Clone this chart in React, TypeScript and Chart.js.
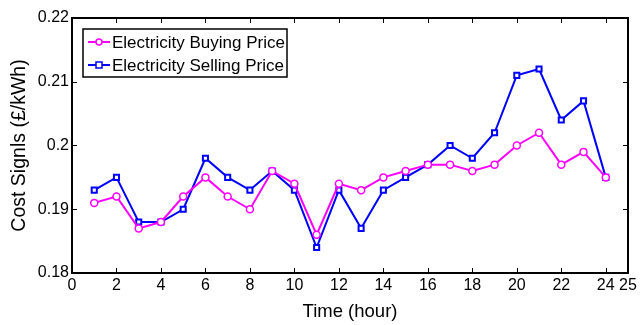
import { useEffect, useRef } from "react";
import { Chart, registerables } from "chart.js";

Chart.register(...registerables);

// Hourly electricity prices (£/kWh)
const hours = [1, 2, 3, 4, 5, 6, 7, 8, 9, 10, 11, 12, 13, 14, 15, 16, 17, 18, 19, 20, 21, 22, 23, 24];
const buyingPrice = [
  0.191, 0.192, 0.187, 0.188, 0.192, 0.195, 0.192, 0.19, 0.196, 0.194, 0.186, 0.194,
  0.193, 0.195, 0.196, 0.197, 0.197, 0.196, 0.197, 0.2, 0.202, 0.197, 0.199, 0.195,
];
const sellingPrice = [
  0.193, 0.195, 0.188, 0.188, 0.19, 0.198, 0.195, 0.193, 0.196, 0.193, 0.184, 0.193,
  0.187, 0.193, 0.195, 0.197, 0.2, 0.198, 0.202, 0.211, 0.212, 0.204, 0.207, 0.195,
];
const xTickValues = [0, 2, 4, 6, 8, 10, 12, 14, 16, 18, 20, 22, 24, 25];
const yTickValues = [0.18, 0.19, 0.2, 0.21, 0.22];

const seriesNames = ["Electricity Buying Price", "Electricity Selling Price"];
const MAGENTA = "#ff00ff";
const BLUE = "#0000ff";
const FONT = "'Liberation Sans', Arial, sans-serif";

// Draws the MATLAB-style box with inward ticks on all four sides
const framePlugin = {
  id: "frame",
  beforeDatasetsDraw(chart: any) {
    const { ctx, chartArea: a, scales } = chart;
    const len = 5;
    ctx.save();
    ctx.strokeStyle = "#000";
    ctx.lineWidth = 1;
    ctx.beginPath();
    for (const v of xTickValues) {
      const px = Math.round(scales.x.getPixelForValue(v)) + 0.5;
      ctx.moveTo(px, a.bottom);
      ctx.lineTo(px, a.bottom - len);
      ctx.moveTo(px, a.top);
      ctx.lineTo(px, a.top + len);
    }
    for (const v of yTickValues) {
      const py = Math.round(scales.y.getPixelForValue(v)) + 0.5;
      ctx.moveTo(a.left, py);
      ctx.lineTo(a.left + len, py);
      ctx.moveTo(a.right, py);
      ctx.lineTo(a.right - len, py);
    }
    ctx.stroke();
    ctx.lineWidth = 2;
    ctx.strokeRect(a.left, a.top, a.right - a.left, a.bottom - a.top);
    ctx.restore();
  },
};

// Boxed legend in the upper-left corner of the plot area
const legendPlugin = {
  id: "boxLegend",
  afterDatasetsDraw(chart: any) {
    const { ctx, chartArea: a } = chart;
    const x0 = a.left + 11;
    const y0 = a.top + 11;
    const w = 204;
    const h = 48;
    ctx.save();
    ctx.fillStyle = "#fff";
    ctx.fillRect(x0, y0, w, h);
    ctx.strokeStyle = "#000";
    ctx.lineWidth = 1.5;
    ctx.strokeRect(x0, y0, w, h);
    ctx.font = `17px ${FONT}`;
    ctx.textBaseline = "middle";
    chart.data.datasets.forEach((ds: any, i: number) => {
      const cy = y0 + 13 + i * 23;
      ctx.strokeStyle = ds.borderColor;
      ctx.lineWidth = 2;
      ctx.beginPath();
      ctx.moveTo(x0 + 5, cy);
      ctx.lineTo(x0 + 27, cy);
      ctx.stroke();
      ctx.fillStyle = "#fff";
      ctx.lineWidth = 1.5;
      ctx.beginPath();
      if (ds.pointStyle === "rect") {
        ctx.rect(x0 + 13, cy - 3, 6, 6);
      } else {
        ctx.arc(x0 + 16, cy, 3, 0, Math.PI * 2);
      }
      ctx.fill();
      ctx.stroke();
      ctx.fillStyle = "#000";
      ctx.fillText(seriesNames[i], x0 + 29, cy + 1);
    });
    ctx.restore();
  },
};

export default function App() {
  const canvasRef = useRef<HTMLCanvasElement | null>(null);

  useEffect(() => {
    document.body.style.margin = "0";
    const canvas = canvasRef.current;
    if (!canvas) return;
    const chart = new Chart(canvas, {
      type: "line",
      data: {
        datasets: [
          {
            label: seriesNames[0],
            data: hours.map((h, i) => ({ x: h, y: buyingPrice[i] })),
            borderColor: MAGENTA,
            backgroundColor: "#fff",
            borderWidth: 2,
            pointStyle: "circle",
            pointRadius: 3.5,
            pointBorderWidth: 1.5,
            pointBackgroundColor: "#fff",
            tension: 0,
          },
          {
            label: seriesNames[1],
            data: hours.map((h, i) => ({ x: h, y: sellingPrice[i] })),
            borderColor: BLUE,
            backgroundColor: "#fff",
            borderWidth: 2,
            pointStyle: "rect",
            pointRadius: 3.6,
            pointBorderWidth: 2,
            pointBackgroundColor: "#fff",
            tension: 0,
          },
        ],
      },
      options: {
        animation: false,
        responsive: false,
        maintainAspectRatio: false,
        layout: { padding: { top: 18, right: 12, left: 0, bottom: 0 } },
        plugins: {
          legend: { display: false },
          tooltip: { enabled: false },
        },
        scales: {
          x: {
            type: "linear",
            min: 0,
            max: 25,
            afterBuildTicks: (scale: any) => {
              scale.ticks = xTickValues.map((v) => ({ value: v }));
            },
            afterFit: (scale: any) => {
              scale.height = 52;
            },
            grid: { display: false, drawTicks: false },
            border: { display: false },
            ticks: {
              color: "#000",
              font: { family: FONT, size: 16 },
              padding: 3,
              maxRotation: 0,
              autoSkip: false,
              callback: (v: any) => String(v),
            },
            title: {
              display: true,
              text: "Time (hour)",
              color: "#000",
              font: { family: FONT, size: 18.5 },
              padding: { top: 0, bottom: 2 },
            },
          },
          y: {
            type: "linear",
            min: 0.18,
            max: 0.22,
            afterBuildTicks: (scale: any) => {
              scale.ticks = yTickValues.map((v) => ({ value: v }));
            },
            afterFit: (scale: any) => {
              scale.width = 72;
            },
            grid: { display: false, drawTicks: false },
            border: { display: false },
            ticks: {
              color: "#000",
              font: { family: FONT, size: 16 },
              padding: 3,
              autoSkip: false,
              callback: (v: any) => String(Number(Number(v).toFixed(2))),
            },
            title: {
              display: true,
              text: "Cost Signls (£/kWh)",
              color: "#000",
              font: { family: FONT, size: 19.5 },
              padding: { top: 8, bottom: 0 },
            },
          },
        },
      },
      plugins: [framePlugin, legendPlugin],
    });
    return () => chart.destroy();
  }, []);

  return (
    <div style={{ position: "absolute", left: 0, top: 0, width: 640, height: 325, background: "#fff" }}>
      <canvas ref={canvasRef} width={640} height={325} style={{ display: "block" }} />
    </div>
  );
}
